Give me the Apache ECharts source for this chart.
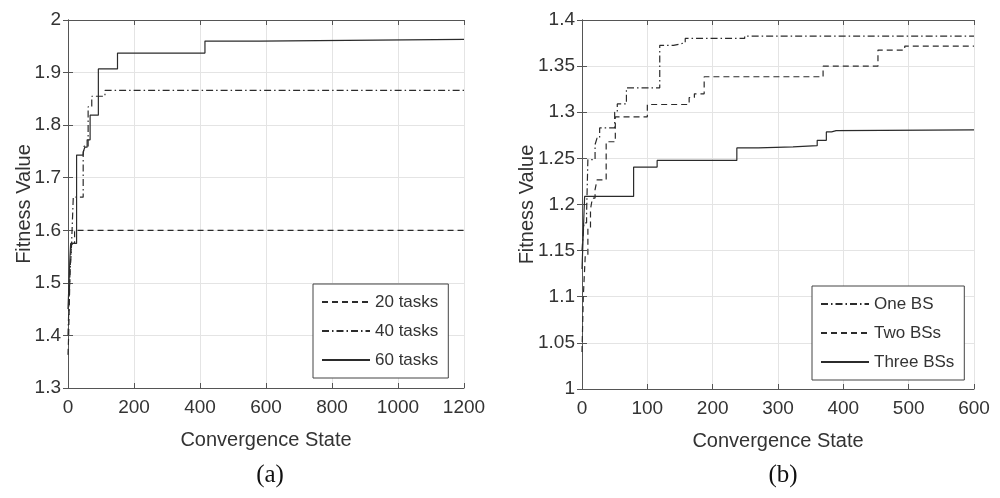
<!DOCTYPE html>
<html>
<head>
<meta charset="utf-8">
<script src="https://cdn.jsdelivr.net/npm/echarts@6/dist/echarts.min.js"></script>
<style>
  html, body { margin: 0; padding: 0; background: #fff; }
  #chart { width: 1000px; height: 498px; }
</style>
</head>
<body>
<div id="chart"></div>
<script>
// Panel (a): fitness value vs. convergence state for different task counts
const tasks20 = [[0,1.363],[2,1.40],[4,1.46],[6,1.52],[9,1.56],[13,1.575],[20,1.600],[1200,1.600]];
const tasks40 = [[0,1.40],[3,1.46],[6,1.52],[10,1.56],[16,1.663],[46,1.745],[49,1.760],[61,1.835],[72,1.855],[112,1.866],[1200,1.866]];
const tasks60 = [[0,1.45],[3,1.50],[6,1.55],[8,1.575],[26,1.743],[46,1.749],[51,1.758],[58,1.772],[67,1.819],[92,1.907],[150,1.937],[415,1.960],[580,1.963],[1200,1.963]];

// Panel (b): fitness value vs. convergence state for different numbers of base stations
const oneBS = [[0,1.15],[3,1.18],[7,1.19],[9,1.2486],[20,1.265],[23,1.272],[27,1.283],[50,1.300],[54,1.309],[68,1.3265],[119,1.3725],[140,1.374],[150,1.3754],[158,1.380],[249,1.3826],[600,1.3826]];
const twoBSs = [[0,1.04],[2,1.10],[5,1.145],[9,1.175],[13,1.195],[16,1.207],[20,1.216],[23,1.2268],[37,1.268],[51,1.295],[100,1.3084],[164,1.316],[172,1.320],[187,1.3385],[369,1.350],[453,1.3674],[494,1.3717],[600,1.3717]];
const threeBSs = [[0,1.13],[2,1.17],[4,1.2087],[79,1.2406],[115,1.2478],[237,1.2613],[270,1.2625],[323,1.2638],[360,1.2696],[374,1.2787],[382,1.280],[389,1.281],[600,1.281]];

const namesA = ['20 tasks', '40 tasks', '60 tasks'];
const namesB = ['One BS', 'Two BSs', 'Three BSs'];

const xRangeA = { min: 0, max: 1200, interval: 200 };
const yRangeA = { min: 1.3, max: 2, interval: 0.1 };
const xRangeB = { min: 0, max: 600, interval: 100 };
const yRangeB = { min: 1, max: 1.4, interval: 0.05 };

const FONT = '"Liberation Sans", Arial, Helvetica, sans-serif';
const TEXT = '#333';
const AXIS = '#555';
const GRID = '#e4e4e4';
const LINE = '#2b2b2b';

const DASH = [6, 4];
const DASHDOT = [7, 3, 1.5, 3];

// plain number text, no thousands separator
const plain = v => String(+Number(v).toFixed(2));

function mainX(grid, r) {
  return {
    type: 'value', gridIndex: grid, position: 'bottom',
    min: r.min, max: r.max, interval: r.interval,
    name: 'Convergence State', nameLocation: 'middle', nameGap: 42,
    nameTextStyle: { fontFamily: FONT, fontSize: 20, color: TEXT },
    axisLine: { show: true, lineStyle: { color: AXIS, width: 1 } },
    axisTick: { show: true, inside: true, length: 5, lineStyle: { color: AXIS } },
    axisLabel: { fontFamily: FONT, fontSize: 19, color: TEXT, margin: 10, formatter: plain },
    splitLine: { show: true, lineStyle: { color: GRID, width: 1 } }
  };
}
function sideX(grid, r) {
  return {
    type: 'value', gridIndex: grid, position: 'top',
    min: r.min, max: r.max, interval: r.interval,
    axisLine: { show: true, lineStyle: { color: AXIS, width: 1 } },
    axisTick: { show: true, inside: true, length: 5, lineStyle: { color: AXIS } },
    axisLabel: { show: false }, splitLine: { show: false }
  };
}
function mainY(grid, r, gap) {
  return {
    type: 'value', gridIndex: grid, position: 'left',
    min: r.min, max: r.max, interval: r.interval,
    name: 'Fitness Value', nameLocation: 'middle', nameGap: gap, nameRotate: 90,
    nameMoveOverlap: false,
    nameTextStyle: { fontFamily: FONT, fontSize: 20, color: TEXT },
    axisLine: { show: true, lineStyle: { color: AXIS, width: 1 } },
    axisTick: { show: true, inside: true, length: 5, lineStyle: { color: AXIS } },
    axisLabel: { fontFamily: FONT, fontSize: 19, color: TEXT, margin: 7, formatter: plain },
    splitLine: { show: true, lineStyle: { color: GRID, width: 1 } }
  };
}
function sideY(grid, r) {
  return {
    type: 'value', gridIndex: grid, position: 'right',
    min: r.min, max: r.max, interval: r.interval,
    axisLine: { show: true, lineStyle: { color: AXIS, width: 1 } },
    axisTick: { show: true, inside: true, length: 5, lineStyle: { color: AXIS } },
    axisLabel: { show: false }, splitLine: { show: false }
  };
}
function stepSeries(name, data, axis, dash) {
  return {
    name: name, type: 'line', step: 'end', data: data,
    xAxisIndex: axis, yAxisIndex: axis,
    symbol: 'none', silent: true, animation: false,
    lineStyle: { color: LINE, width: 1.2, type: dash },
    itemStyle: { color: LINE }
  };
}
function legendBox(names, left, top) {
  return {
    data: names, orient: 'vertical', left: left, top: top,
    padding: [8, 10, 8, 8], itemWidth: 48, itemHeight: 12, itemGap: 9,
    backgroundColor: '#fff', borderColor: '#444', borderWidth: 1,
    // only the line sample is shown as the key, no marker
    itemStyle: { opacity: 0 },
    textStyle: { fontFamily: FONT, fontSize: 17, color: TEXT, lineHeight: 20 }
  };
}

const chart = echarts.init(document.getElementById('chart'), null, { renderer: 'canvas' });
chart.setOption({
  backgroundColor: '#fff',
  animation: false,
  grid: [
    { left: 68, top: 20, width: 396, height: 368 },
    { left: 582, top: 20, width: 392, height: 369 }
  ],
  xAxis: [mainX(0, xRangeA), sideX(0, xRangeA), mainX(1, xRangeB), sideX(1, xRangeB)],
  yAxis: [mainY(0, yRangeA, 34), sideY(0, yRangeA), mainY(1, yRangeB, 45), sideY(1, yRangeB)],
  legend: [legendBox(namesA, 313, 284), legendBox(namesB, 812, 286)],
  title: [
    { text: '(a)', left: 265, top: 458, textAlign: 'center',
      textStyle: { fontFamily: '"Liberation Serif", "Times New Roman", serif', fontSize: 25, fontWeight: 'normal', color: '#111' } },
    { text: '(b)', left: 778, top: 458, textAlign: 'center',
      textStyle: { fontFamily: '"Liberation Serif", "Times New Roman", serif', fontSize: 25, fontWeight: 'normal', color: '#111' } }
  ],
  series: [
    stepSeries(namesA[0], tasks20, 0, DASH),
    stepSeries(namesA[1], tasks40, 0, DASHDOT),
    stepSeries(namesA[2], tasks60, 0, 'solid'),
    stepSeries(namesB[0], oneBS, 2, DASHDOT),
    stepSeries(namesB[1], twoBSs, 2, DASH),
    stepSeries(namesB[2], threeBSs, 2, 'solid')
  ]
});
</script>
</body>
</html>
